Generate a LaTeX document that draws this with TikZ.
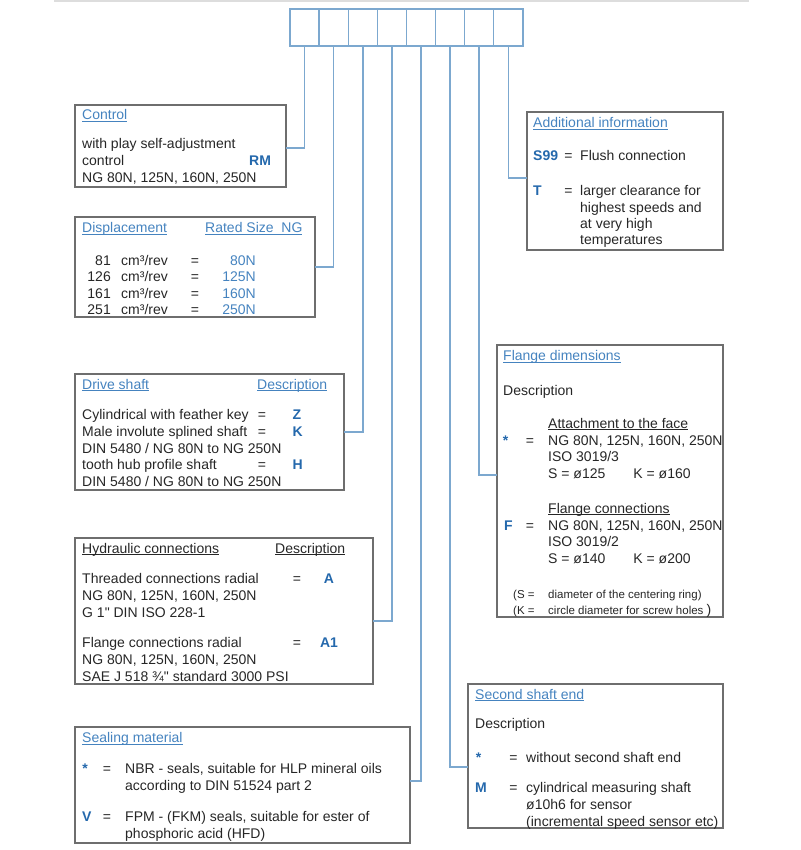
\documentclass[tikz,border=0pt]{standalone}
\usepackage{fontspec}
\setmainfont{Liberation Sans}[Ligatures=TeXOff]
\usetikzlibrary{positioning}
\definecolor{fig-ink}{HTML}{262626}
\definecolor{fig-frame}{HTML}{6E6E6E}
\definecolor{fig-link}{HTML}{7CA8CF}
\definecolor{fig-head}{HTML}{4583BF}
\definecolor{fig-code}{HTML}{2468AC}
\definecolor{fig-rule}{HTML}{DDDDDD}
\newcommand{\figsize}{\fontsize{14}{16.8}\selectfont}
\newcommand{\hdul}[1]{\setbox0\hbox{#1}\rlap{\rule[-2pt]{\wd0}{0.8pt}}\box0}

\begin{document}
\begin{tikzpicture}[
    x=1pt, y=-1pt,
    font=\figsize,
    panel/.style={draw=fig-frame, line width=1.3pt, inner sep=0pt, outer sep=0pt},
    cell/.style={draw=fig-link, line width=1.4pt, minimum width=29.1pt, minimum height=37pt, inner sep=0pt, outer sep=0pt},
    link/.style={draw=fig-link, line width=1.5pt},
    txt/.style={anchor=base west, inner sep=0pt, text=fig-ink},
    head/.style={txt, text=fig-head},
    code/.style={txt, text=fig-code, font=\figsize\bfseries},
    val/.style={txt, anchor=base east, text=fig-head},
    eq/.style={anchor=base, inner sep=0pt, text=fig-ink},
    small/.style={txt, font=\fontsize{11.5}{13}\selectfont},
]
\path[use as bounding box] (0,0) rectangle (800,850);
\draw[fig-rule, line width=1.2pt] (54,1) -- (749,1);

% type code key
\node[cell] (cell1) at (304.6,27.5) {};
\node[cell, right=0pt of cell1] (cell2) {};
\node[cell, right=0pt of cell2] (cell3) {};
\node[cell, right=0pt of cell3] (cell4) {};
\node[cell, right=0pt of cell4] (cell5) {};
\node[cell, right=0pt of cell5] (cell6) {};
\node[cell, right=0pt of cell6] (cell7) {};
\node[cell, right=0pt of cell7] (cell8) {};

% frames
\node[panel, minimum width=211pt, minimum height=82pt] (control) at (180.5,146) {};
\node[panel, minimum width=240pt, minimum height=100pt] (displ) at (195,267) {};
\node[panel, minimum width=269pt, minimum height=116pt] (drive) at (209.5,432) {};
\node[panel, minimum width=298pt, minimum height=146pt] (hydr) at (224,611) {};
\node[panel, minimum width=335pt, minimum height=116pt] (seal) at (242.5,785) {};
\node[panel, minimum width=196pt, minimum height=138pt] (addinfo) at (625,181) {};
\node[panel, minimum width=226pt, minimum height=272pt] (flange) at (610,481) {};
\node[panel, minimum width=255pt, minimum height=144pt] (second) at (595.5,756) {};

\draw[link] (cell1.south) |- ([yshift=-2pt]control.east);
\draw[link] (cell2.south) |- (displ.east);
\draw[link] (cell3.south) |- (drive.east);
\draw[link] (cell4.south) |- ([yshift=-10pt]hydr.east);
\draw[link] (cell5.south) |- ([yshift=4pt]seal.east);
\draw[link] (cell6.south) |- ([yshift=-11pt]second.west);
\draw[link] (cell7.south) |- ([yshift=6pt]flange.west);
\draw[link] (cell8.south) |- ([yshift=3pt]addinfo.west);

% control
\node[head] (ctl-h) at (82,120) {\hdul{Control}};
\node[txt] (ctl-1) at (82,149) {with play self-adjustment};
\node[txt] (ctl-2) at (82,166) {control};
\node[code] (ctl-rm) at (249,166) {RM};
\node[txt] (ctl-3) at (82,183) {NG 80N, 125N, 160N, 250N};

% displacement
\node[head] (dsp-h) at (82,233) {\hdul{Displacement}};
\node[head] (dsp-hr) at (205,233) {\hdul{Rated Size\ \ NG}};
\node[txt, anchor=base east] (dsp-n1) at (111,265) {81};
\node[txt] (dsp-u1) at (121,265) {cm³/rev};
\node[eq] (dsp-e1) at (195,265) {=};
\node[val] (dsp-v1) at (256,265) {80N};
\node[txt, anchor=base east] (dsp-n2) at (111,281.5) {126};
\node[txt] (dsp-u2) at (121,281.5) {cm³/rev};
\node[eq] (dsp-e2) at (195,281.5) {=};
\node[val] (dsp-v2) at (256,281.5) {125N};
\node[txt, anchor=base east] (dsp-n3) at (111,298) {161};
\node[txt] (dsp-u3) at (121,298) {cm³/rev};
\node[eq] (dsp-e3) at (195,298) {=};
\node[val] (dsp-v3) at (256,298) {160N};
\node[txt, anchor=base east] (dsp-n4) at (111,314) {251};
\node[txt] (dsp-u4) at (121,314) {cm³/rev};
\node[eq] (dsp-e4) at (195,314) {=};
\node[val] (dsp-v4) at (256,314) {250N};

% drive shaft
\node[head] (drv-h) at (82,389) {\hdul{Drive shaft}};
\node[head] (drv-hd) at (257,389) {\hdul{Description}};
\node[txt] (drv-1) at (82,419) {Cylindrical with feather key};
\node[eq] (drv-e1) at (262,419) {=};
\node[code] (drv-z) at (292.5,419) {Z};
\node[txt] (drv-2) at (82,436) {Male involute splined shaft};
\node[eq] (drv-e2) at (262,436) {=};
\node[code] (drv-k) at (292.5,436) {K};
\node[txt] (drv-3) at (82,453) {DIN 5480 / NG 80N to NG 250N};
\node[txt] (drv-4) at (82,469.5) {tooth hub profile shaft};
\node[eq] (drv-e4) at (262,469.5) {=};
\node[code] (drv-hh) at (292.5,469.5) {H};
\node[txt] (drv-5) at (82,486) {DIN 5480 / NG 80N to NG 250N};

% hydraulic connections
\node[txt] (hyd-h) at (82,553) {\hdul{Hydraulic connections}};
\node[txt] (hyd-hd) at (275,553) {\hdul{Description}};
\node[txt] (hyd-1) at (82,583) {Threaded connections radial};
\node[eq] (hyd-e1) at (297,583) {=};
\node[code, anchor=base] (hyd-a) at (329,583) {A};
\node[txt] (hyd-2) at (82,600) {NG 80N, 125N, 160N, 250N};
\node[txt] (hyd-3) at (82,617) {G 1" DIN ISO 228-1};
\node[txt] (hyd-4) at (82,647) {Flange connections radial};
\node[eq] (hyd-e4) at (297,647) {=};
\node[code, anchor=base] (hyd-a1) at (329,647) {A1};
\node[txt] (hyd-5) at (82,664) {NG 80N, 125N, 160N, 250N};
\node[txt] (hyd-6) at (82,681) {SAE J 518 ¾" standard 3000 PSI};

% sealing material
\node[head] (seal-h) at (82,742.5) {\hdul{Sealing material}};
\node[code, anchor=base] (seal-s) at (85,773) {*};
\node[eq] (seal-e1) at (107,773) {=};
\node[txt] (seal-1) at (125,773) {NBR - seals, suitable for HLP mineral oils};
\node[txt] (seal-2) at (125,790) {according to DIN 51524 part 2};
\node[code] (seal-v) at (82,821.5) {V};
\node[eq] (seal-e3) at (107,821.5) {=};
\node[txt] (seal-3) at (125,821.5) {FPM - (FKM) seals, suitable for ester of};
\node[txt] (seal-4) at (125,838) {phosphoric acid (HFD)};

% additional information
\node[head] (add-h) at (533,128) {\hdul{Additional information}};
\node[code] (add-s) at (533,161) {S99};
\node[eq] (add-e1) at (568.5,161) {=};
\node[txt] (add-1) at (580,161) {Flush connection};
\node[code] (add-t) at (533,196) {T};
\node[eq] (add-e2) at (568.5,196) {=};
\node[txt] (add-2) at (580,196) {larger clearance for};
\node[txt] (add-3) at (580,212) {highest speeds and};
\node[txt] (add-4) at (580,228.5) {at very high};
\node[txt] (add-5) at (580,244.5) {temperatures};

% flange dimensions
\node[head] (fln-h) at (503,360.5) {\hdul{Flange dimensions}};
\node[txt] (fln-d) at (503,395) {Description};
\node[txt] (fln-a) at (548,428) {\hdul{Attachment to the face}};
\node[code, anchor=base] (fln-s) at (505.5,445) {*};
\node[eq] (fln-e1) at (530,445) {=};
\node[txt] (fln-1) at (548,445) {NG 80N, 125N, 160N, 250N};
\node[txt] (fln-2) at (548,461.5) {ISO 3019/3};
\node[txt] (fln-3) at (548,478.5) {S = ø125\quad\quad K = ø160};
\node[txt] (fln-b) at (548,513) {\hdul{Flange connections}};
\node[code] (fln-f) at (504,530) {F};
\node[eq] (fln-e2) at (530,530) {=};
\node[txt] (fln-4) at (548,530) {NG 80N, 125N, 160N, 250N};
\node[txt] (fln-5) at (548,546) {ISO 3019/2};
\node[txt] (fln-6) at (548,563) {S = ø140\quad\quad K = ø200};
\node[small] (fln-7) at (513,598) {(S =};
\node[small] (fln-8) at (548,598) {diameter of the centering ring)};
\node[small] (fln-9) at (513,614) {(K =};
\node[small] (fln-10) at (548,614) {circle diameter for screw holes {\figsize)}};

% second shaft end
\node[head] (sec-h) at (475,699) {\hdul{Second shaft end}};
\node[txt] (sec-d) at (475,728) {Description};
\node[code, anchor=base] (sec-s) at (478.5,762.5) {*};
\node[eq] (sec-e1) at (513.5,762.5) {=};
\node[txt] (sec-1) at (526,762.5) {without second shaft end};
\node[code] (sec-m) at (475,792.5) {M};
\node[eq] (sec-e2) at (513.5,792.5) {=};
\node[txt] (sec-2) at (526,792.5) {cylindrical measuring shaft};
\node[txt] (sec-3) at (526,809) {ø10h6 for sensor};
\node[txt] (sec-4) at (526,826) {(incremental speed sensor etc)};
\end{tikzpicture}
\end{document}
